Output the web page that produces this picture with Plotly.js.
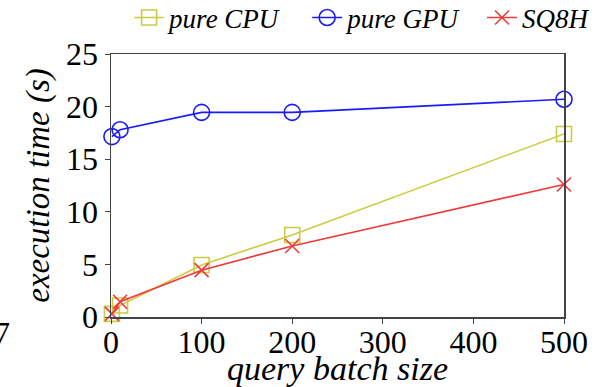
<!DOCTYPE html>
<html>
<head>
<meta charset="utf-8">
<script src="https://cdn.plot.ly/plotly-3.0.1.min.js"></script>
<style>html,body{margin:0;padding:0;background:#fff;}#chart{width:604px;height:387px;}</style>
</head>
<body>
<div id="chart"></div>
<script>
const batchSizes = [1, 10, 100, 200, 500];
const pureCPU = [0.3, 1.1, 4.95, 7.8, 17.4];
const pureGPU = [17.15, 17.8, 19.45, 19.45, 20.7];
const sq8h = [0.3, 1.45, 4.45, 6.75, 12.6];
const seriesNames = ['pure CPU', 'pure GPU', 'SQ8H'];
const xTicks = [0, 100, 200, 300, 400, 500];
const yTicks = [0, 5, 10, 15, 20, 25];

const serif = 'Liberation Serif';

const traces = [
  {x: batchSizes, y: pureCPU, name: seriesNames[0], legend: 'legend', mode: 'lines+markers', cliponaxis: false,
   line: {color: '#cccc44', width: 1.6},
   marker: {symbol: 'square-open', size: 15, color: '#cccc44', line: {width: 1.6}}},
  {x: batchSizes, y: pureGPU, name: seriesNames[1], legend: 'legend2', mode: 'lines+markers', cliponaxis: false,
   line: {color: '#1a1aff', width: 1.6},
   marker: {symbol: 'circle-open', size: 16, color: '#1a1aff', line: {width: 1.6}}},
  {x: batchSizes, y: sq8h, name: seriesNames[2], legend: 'legend3', mode: 'lines+markers', cliponaxis: false,
   line: {color: '#f03a3a', width: 1.6},
   marker: {symbol: 'x-thin-open', size: 14, color: '#f03a3a', line: {width: 1.6}}}
];

function legendAt(x) {
  return {orientation: 'h', x: x, xanchor: 'left', y: 1.137, yanchor: 'middle',
          font: {family: serif, size: 27, style: 'italic', color: '#000'}, bgcolor: 'rgba(0,0,0,0)'};
}

const layout = {
  width: 604, height: 387,
  margin: {l: 111, r: 40, t: 54, b: 70, autoexpand: false},
  paper_bgcolor: '#fff', plot_bgcolor: '#fff',
  font: {family: serif, size: 32, color: '#000'},
  showlegend: true,
  legend: legendAt(0.040),
  legend2: legendAt(0.433),
  legend3: legendAt(0.819),
  xaxis: {range: [0, 500], tickvals: xTicks, ticktext: xTicks.map(String),
          showgrid: false, zeroline: false, showline: true, mirror: true,
          linecolor: '#444', linewidth: 1.5, ticks: 'outside', ticklen: 5, tickcolor: '#444',
          tickfont: {family: serif, size: 32}, ticklabelstandoff: -9,
          title: {text: 'query batch size', font: {family: serif, size: 34, style: 'italic'}, standoff: 4}},
  yaxis: {range: [0, 25], tickvals: yTicks, ticktext: yTicks.map(String),
          showgrid: false, zeroline: false, showline: true, mirror: true,
          linecolor: '#444', linewidth: 1.5, ticks: 'outside', ticklen: 5, tickcolor: '#444',
          tickfont: {family: serif, size: 32},
          title: {text: 'execution time (s)', font: {family: serif, size: 33, style: 'italic'}, standoff: 6}},
  annotations: [
    {text: '7', xref: 'paper', yref: 'paper', x: -0.262, y: -0.06, xanchor: 'left', yanchor: 'middle',
     showarrow: false, font: {family: serif, size: 32, color: '#000'}}
  ]
};

Plotly.newPlot('chart', traces, layout, {displayModeBar: false, staticPlot: true});
</script>
</body>
</html>
